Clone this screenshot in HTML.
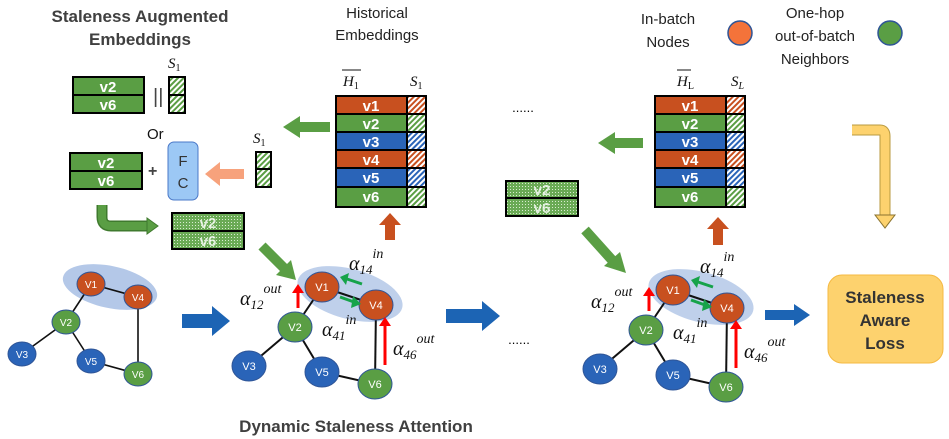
<!DOCTYPE html><html><head><style>body{margin:0;background:#fff}svg{display:block;font-family:"Liberation Sans",sans-serif}</style></head><body>
<svg width="949" height="439" viewBox="0 0 949 439" xmlns="http://www.w3.org/2000/svg">
<defs>
<pattern id="hg" width="4" height="4" patternUnits="userSpaceOnUse" patternTransform="rotate(45)"><rect width="4" height="4" fill="#fff"/><rect width="2" height="4" fill="#5a9e44"/></pattern>
<pattern id="ho" width="4" height="4" patternUnits="userSpaceOnUse" patternTransform="rotate(45)"><rect width="4" height="4" fill="#fff"/><rect width="2" height="4" fill="#c8501f"/></pattern>
<pattern id="hb" width="4" height="4" patternUnits="userSpaceOnUse" patternTransform="rotate(45)"><rect width="4" height="4" fill="#fff"/><rect width="2" height="4" fill="#2a64b8"/></pattern>
<pattern id="dg" width="3" height="3" patternUnits="userSpaceOnUse"><rect width="3" height="3" fill="#6aaa55"/><rect width="1" height="1" fill="#d8ecd0"/></pattern>
<g id="tbl">
<rect x="0" y="0" width="92" height="113" fill="#000"/>
<rect x="2" y="2" width="69" height="16" fill="#c8501f"/><rect x="73" y="2" width="17" height="16" fill="url(#ho)"/>
<rect x="2" y="20" width="69" height="16" fill="#5a9e44"/><rect x="73" y="20" width="17" height="16" fill="url(#hg)"/>
<rect x="2" y="38" width="69" height="16" fill="#2a64b8"/><rect x="73" y="38" width="17" height="16" fill="url(#hb)"/>
<rect x="2" y="56" width="69" height="16" fill="#c8501f"/><rect x="73" y="56" width="17" height="16" fill="url(#ho)"/>
<rect x="2" y="74" width="69" height="17" fill="#2a64b8"/><rect x="73" y="74" width="17" height="17" fill="url(#hb)"/>
<rect x="2" y="93" width="69" height="18" fill="#5a9e44"/><rect x="73" y="93" width="17" height="18" fill="url(#hg)"/>
<g fill="#fff" font-weight="bold" font-size="15" text-anchor="middle">
<text x="36" y="16">v1</text><text x="36" y="34">v2</text><text x="36" y="52">v3</text><text x="36" y="70">v4</text><text x="36" y="88">v5</text><text x="36" y="107">v6</text></g>
</g>
<g id="g2">
<ellipse cx="350" cy="294" rx="54" ry="25" transform="rotate(15 350 294)" fill="#b4c8e8" opacity="0.85"/>
<g stroke="#111" stroke-width="2"><line x1="322" y1="287" x2="376" y2="305"/><line x1="322" y1="287" x2="295" y2="327"/><line x1="295" y1="327" x2="249" y2="366"/><line x1="295" y1="327" x2="322" y2="372"/><line x1="322" y1="372" x2="375" y2="384"/><line x1="376" y1="305" x2="375" y2="384"/></g>
<g stroke="#2f5597" stroke-width="1">
<ellipse cx="322" cy="287" rx="17" ry="15" fill="#c8501f"/><ellipse cx="376" cy="305" rx="17" ry="15" fill="#c8501f"/>
<ellipse cx="295" cy="327" rx="17" ry="15" fill="#5a9e44"/><ellipse cx="375" cy="384" rx="17" ry="15" fill="#5a9e44"/>
<ellipse cx="249" cy="366" rx="17" ry="15" fill="#2a64b8"/><ellipse cx="322" cy="372" rx="17" ry="15" fill="#2a64b8"/></g>
<g fill="#fff" font-size="11" text-anchor="middle"><text x="322" y="291">V1</text><text x="376" y="309">V4</text><text x="295" y="331">V2</text><text x="375" y="388">V6</text><text x="249" y="370">V3</text><text x="322" y="376">V5</text></g>
<g stroke="#f00" stroke-width="3"><line x1="298" y1="308" x2="298" y2="292"/><line x1="385" y1="365" x2="385" y2="325"/></g>
<g fill="#f00"><polygon points="292,293 304,293 298,284"/><polygon points="379,326 391,326 385,317"/></g>
<g stroke="#16a34a" stroke-width="3"><line x1="362" y1="284" x2="347" y2="279"/><line x1="340" y1="297" x2="354" y2="302"/></g>
<g fill="#16a34a"><polygon points="340,277 349,273 346,285"/><polygon points="361,304 353,296 351,308"/></g>
<g font-family="Liberation Serif,serif" font-style="italic" fill="#111">
<text x="349" y="270" font-size="20">α<tspan font-size="13" dy="4">14</tspan><tspan font-size="14" dy="-16">in</tspan></text>
<text x="240" y="305" font-size="20">α<tspan font-size="13" dy="4">12</tspan><tspan font-size="14" dy="-16">out</tspan></text>
<text x="322" y="336" font-size="20">α<tspan font-size="13" dy="4">41</tspan><tspan font-size="14" dy="-16">in</tspan></text>
<text x="393" y="355" font-size="20">α<tspan font-size="13" dy="4">46</tspan><tspan font-size="14" dy="-16">out</tspan></text>
</g>
</g>
</defs>

<g font-weight="bold" font-size="17" fill="#404040" text-anchor="middle"><text x="140" y="22">Staleness Augmented</text><text x="140" y="45">Embeddings</text><text x="356" y="432">Dynamic Staleness Attention</text></g>
<g font-size="15" fill="#222" text-anchor="middle"><text x="377" y="18">Historical</text><text x="377" y="40">Embeddings</text>
<text x="668" y="24">In-batch</text><text x="668" y="47">Nodes</text>
<text x="815" y="18">One-hop</text><text x="815" y="41">out-of-batch</text><text x="815" y="64">Neighbors</text></g>
<circle cx="740" cy="33" r="12" fill="#f4733a" stroke="#2f5597" stroke-width="1.5"/>
<circle cx="890" cy="33" r="12" fill="#5a9e44" stroke="#2f5597" stroke-width="1.5"/>

<g font-family="Liberation Serif,serif" font-style="italic" fill="#111" font-size="15">
<text x="168" y="68">S<tspan font-size="10" dy="3" font-style="normal">1</tspan></text>
<text x="253" y="143">S<tspan font-size="10" dy="3" font-style="normal">1</tspan></text>
<text x="343" y="86">H<tspan font-size="10" dy="3" font-style="normal">1</tspan></text>
<text x="410" y="86">S<tspan font-size="10" dy="3" font-style="normal">1</tspan></text>
<text x="677" y="86">H<tspan font-size="10" dy="3" font-style="normal">L</tspan></text>
<text x="731" y="86">S<tspan font-size="10" dy="3">L</tspan></text></g>
<line x1="342" y1="70" x2="361" y2="70" stroke="#111"/><line x1="677" y1="70" x2="691" y2="70" stroke="#111"/>
<rect x="72" y="76" width="73" height="38" fill="#000"/><rect x="74" y="78" width="69" height="16" fill="#5a9e44"/><rect x="74" y="96" width="69" height="16" fill="#5a9e44"/>
<rect x="168" y="76" width="18" height="38" fill="#000"/><rect x="170" y="78" width="14" height="16" fill="url(#hg)"/><rect x="170" y="96" width="14" height="16" fill="url(#hg)"/>
<text x="153" y="103" font-size="20" fill="#444">||</text>
<text x="147" y="139" font-size="15" fill="#111">Or</text>
<rect x="69" y="152" width="74" height="38" fill="#000"/><rect x="71" y="154" width="70" height="16" fill="#5a9e44"/><rect x="71" y="172" width="70" height="16" fill="#5a9e44"/>
<text x="148" y="176" font-size="16" font-weight="bold" fill="#444">+</text>
<rect x="168" y="142" width="30" height="58" rx="6" fill="#9cc8f5" stroke="#4a78c8"/>
<text x="183" y="166" font-size="15" fill="#333" text-anchor="middle">F</text><text x="183" y="188" font-size="15" fill="#333" text-anchor="middle">C</text>
<rect x="255" y="151" width="17" height="37" fill="#000"/><rect x="257" y="153" width="13" height="15" fill="url(#hg)"/><rect x="257" y="170" width="13" height="16" fill="url(#hg)"/>
<g fill="#fff" font-weight="bold" font-size="15" text-anchor="middle"><text x="108" y="92">v2</text><text x="108" y="110">v6</text><text x="106" y="168">v2</text><text x="106" y="186">v6</text></g>
<rect x="171" y="212" width="74" height="38" fill="#000"/><rect x="173" y="214" width="70" height="16" fill="url(#dg)"/><rect x="173" y="232" width="70" height="16" fill="url(#dg)"/>
<rect x="505" y="180" width="74" height="37" fill="#000"/><rect x="507" y="182" width="70" height="15" fill="url(#dg)"/><rect x="507" y="199" width="70" height="16" fill="url(#dg)"/>
<g fill="#fff" font-weight="bold" font-size="15" text-anchor="middle" opacity="0.8"><text x="208" y="228">v2</text><text x="208" y="246">v6</text><text x="542" y="195">v2</text><text x="542" y="213">v6</text></g>

<use href="#tbl" x="335" y="95"/><use href="#tbl" x="654" y="95"/>
<text x="523" y="112" font-size="13" text-anchor="middle">......</text>
<text x="519" y="344" font-size="13" text-anchor="middle">......</text>

<polygon points="330,122 300,122 300,116 283,127 300,138 300,132 330,132" fill="#5a9e44"/>
<polygon points="643,138 615,138 615,132 598,143 615,154 615,148 643,148" fill="#5a9e44"/>
<polygon points="244,169 220,169 220,162 205,174 220,186 220,179 244,179" fill="#f7a27c"/>
<polygon points="385,240 385,225 379,225 390,213 401,225 395,225 395,240" fill="#c8501f"/>
<polygon points="713,245 713,229 707,229 718,217 729,229 723,229 723,245" fill="#c8501f"/>
<path d="M102,205 L102,217 Q102,226 111,226 L148,226" fill="none" stroke="#3f7a2e" stroke-width="11"/>
<path d="M102,205 L102,217 Q102,226 111,226 L148,226" fill="none" stroke="#5a9e44" stroke-width="8"/>
<polygon points="147,218 158,226 147,234" fill="#5a9e44" stroke="#3f7a2e"/>
<path d="M852,130 L880,130 Q885,130 885,136 L885,215" fill="none" stroke="#b89a40" stroke-width="11"/>
<path d="M852,130 L880,130 Q885,130 885,136 L885,216" fill="none" stroke="#fdd26e" stroke-width="9"/>
<polygon points="875,215 895,215 885,228" fill="#fdd26e" stroke="#8a7330"/>
<line x1="262" y1="246" x2="284" y2="268" stroke="#5a9e44" stroke-width="10"/><polygon points="276,275 296,280 291,260" fill="#5a9e44"/>
<line x1="585" y1="230" x2="612" y2="260" stroke="#5a9e44" stroke-width="10"/><polygon points="604,266 626,273 620,252" fill="#5a9e44"/>
<polygon points="182,314 212,314 212,306 230,321 212,336 212,328 182,328" fill="#1c64b4"/>
<polygon points="446,309 482,309 482,301 500,316 482,331 482,323 446,323" fill="#1c64b4"/>
<polygon points="765,310 794,310 794,304 810,315 794,326 794,320 765,320" fill="#1c64b4"/>

<ellipse cx="110" cy="287" rx="48" ry="21" transform="rotate(12 110 287)" fill="#b4c8e8"/>
<g stroke="#111" stroke-width="1.6"><line x1="91" y1="284" x2="138" y2="297"/><line x1="91" y1="284" x2="66" y2="322"/><line x1="66" y1="322" x2="22" y2="354"/><line x1="66" y1="322" x2="91" y2="361"/><line x1="91" y1="361" x2="138" y2="374"/><line x1="138" y1="297" x2="138" y2="374"/></g>
<g stroke="#2f5597" stroke-width="1"><ellipse cx="91" cy="284" rx="14" ry="12" fill="#c8501f"/><ellipse cx="138" cy="297" rx="14" ry="12" fill="#c8501f"/><ellipse cx="66" cy="322" rx="14" ry="12" fill="#5a9e44"/><ellipse cx="138" cy="374" rx="14" ry="12" fill="#5a9e44"/><ellipse cx="22" cy="354" rx="14" ry="12" fill="#2a64b8"/><ellipse cx="91" cy="361" rx="14" ry="12" fill="#2a64b8"/></g>
<g fill="#fff" font-size="10" text-anchor="middle"><text x="91" y="288">V1</text><text x="138" y="301">V4</text><text x="66" y="326">V2</text><text x="138" y="378">V6</text><text x="22" y="358">V3</text><text x="91" y="365">V5</text></g>

<use href="#g2"/>
<use href="#g2" transform="translate(351,3)"/>

<rect x="828" y="275" width="115" height="88" rx="14" fill="#fdd26e" stroke="#f5b942"/>
<g font-weight="bold" font-size="17" fill="#333" text-anchor="middle"><text x="885" y="303">Staleness</text><text x="885" y="326">Aware</text><text x="885" y="349">Loss</text></g>
</svg>
</body></html>
